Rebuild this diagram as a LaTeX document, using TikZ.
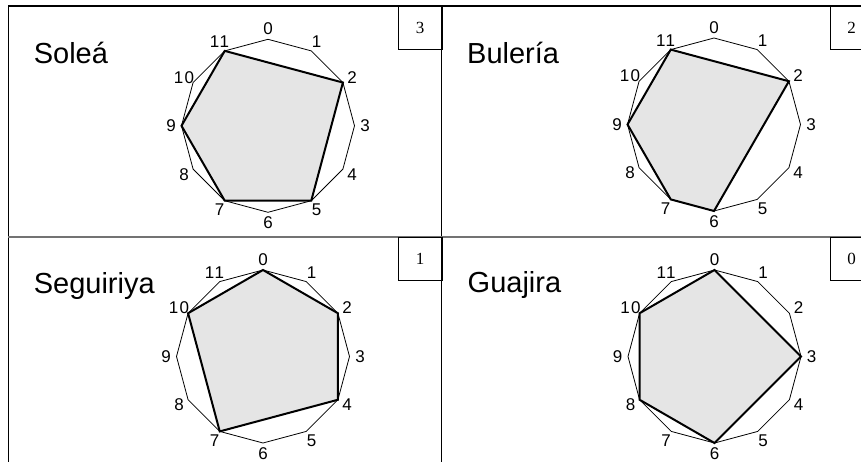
\documentclass[tikz,border=0pt]{standalone}
\usepackage{fontspec}
\setmainfont{Liberation Sans}
\newfontfamily\boxfont{Liberation Serif}
\newfontfamily\hourfont[LetterSpace=8]{Liberation Sans}
\usepackage{tikz}
\usetikzlibrary{positioning}

\tikzset{
    rim/.style={black, line width=0.8pt, line join=miter},
    hull/.style={black, line width=2pt, fill=gray!20, line join=miter},
    hour/.style={font=\hourfont\fontsize{17pt}{17pt}\selectfont, inner sep=0pt},
    title/.style={font=\fontsize{29pt}{29pt}\selectfont, anchor=base west, inner sep=0pt},
    tag/.style={draw, line width=0.8pt, anchor=north west, minimum width=43.6pt,
        minimum height=43.4pt, inner sep=0pt, font=\boxfont\fontsize{17pt}{17pt}\selectfont}
}

\begin{document}
\begin{tikzpicture}[x=1pt, y=-1pt]
    \useasboundingbox (0,0) rectangle (861,462);
    \clip (0,0) rectangle (861,462);

    % Frame
    \draw[line width=1.5pt] (8.3,480) -- (8.3,6) -- (880,6);
    \draw[line width=1pt] (441.7,6) -- (441.7,480);
    \draw[black!55, line width=2pt] (8.3,236.7) -- (880,236.7);

    % Solea
    \begin{scope}[shift={(268,125.8)}]
        \foreach \k in {0,...,11}
            \coordinate (s\k) at ({30*\k-90}:86.5);
        \draw[rim] (s0) \foreach \k in {1,...,11} {-- (s\k)} -- cycle;
        \draw[hull] (s11) -- (s2) -- (s5) -- (s7) -- (s9) -- cycle;
        \foreach \k in {0,...,11}
            \node[hour] (s\k-lbl) at ({30*\k-90}:97) {\k};
    \end{scope}
    \node[title] (solea) at (33.6,63.5) {Soleá};
    \node[tag] (solea-tag) at (398,6) {3};

    % Buleria
    \begin{scope}[shift={(714,124.5)}]
        \foreach \k in {0,...,11}
            \coordinate (b\k) at ({30*\k-90}:86.5);
        \draw[rim] (b0) \foreach \k in {1,...,11} {-- (b\k)} -- cycle;
        \draw[hull] (b11) -- (b2) -- (b6) -- (b7) -- (b9) -- cycle;
        \foreach \k in {0,...,11}
            \node[hour] (b\k-lbl) at ({30*\k-90}:97) {\k};
    \end{scope}
    \node[title] (buleria) at (467,63.5) {Bulería};
    \node[tag] (buleria-tag) at (829.5,6) {2};

    % Seguiriya
    \begin{scope}[shift={(263,356.5)}]
        \foreach \k in {0,...,11}
            \coordinate (g\k) at ({30*\k-90}:86.5);
        \draw[rim] (g0) \foreach \k in {1,...,11} {-- (g\k)} -- cycle;
        \draw[hull] (g0) -- (g2) -- (g4) -- (g7) -- (g10) -- cycle;
        \foreach \k in {0,...,11}
            \node[hour] (g\k-lbl) at ({30*\k-90}:97) {\k};
    \end{scope}
    \node[title] (seguiriya) at (33.6,293.5) {Seguiriya};
    \node[tag] (seguiriya-tag) at (398,236.7) {1};

    % Guajira
    \begin{scope}[shift={(714.5,356.5)}]
        \foreach \k in {0,...,11}
            \coordinate (j\k) at ({30*\k-90}:86.5);
        \draw[rim] (j0) \foreach \k in {1,...,11} {-- (j\k)} -- cycle;
        \draw[hull] (j0) -- (j3) -- (j6) -- (j8) -- (j10) -- cycle;
        \foreach \k in {0,...,11}
            \node[hour] (j\k-lbl) at ({30*\k-90}:97) {\k};
    \end{scope}
    \node[title] (guajira) at (467.5,292) {Guajira};
    \node[tag] (guajira-tag) at (829.5,236.7) {0};
\end{tikzpicture}
\end{document}
